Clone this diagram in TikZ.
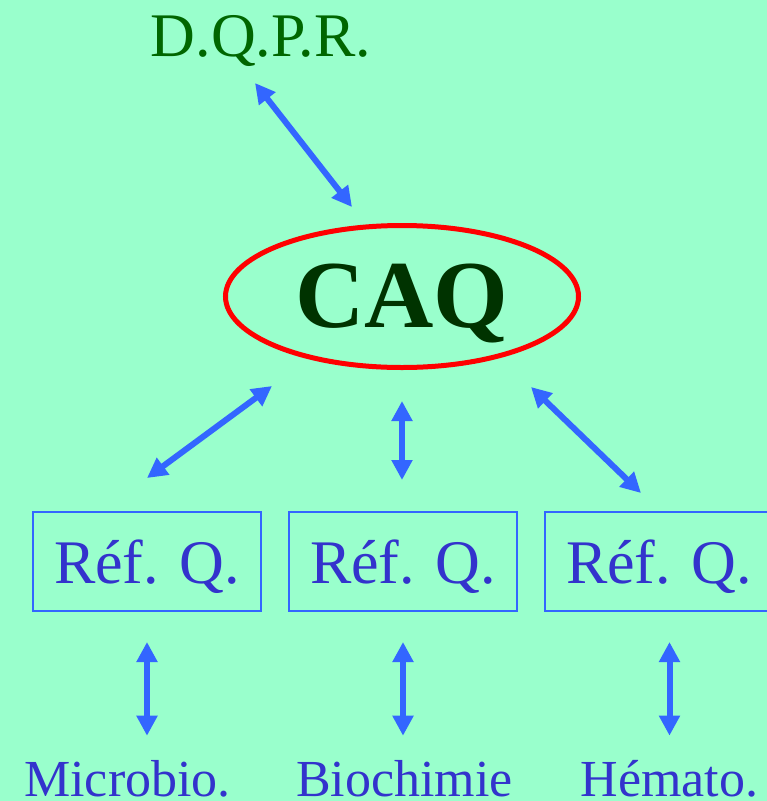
\documentclass[tikz,border=0pt]{standalone}
\usepackage{fontspec}
\setmainfont{Liberation Serif}
\usetikzlibrary{shapes.geometric, arrows.meta}
\definecolor{bgmint}{HTML}{99FFCC}
\definecolor{refblue}{HTML}{3333CC}
\definecolor{arrowblue}{HTML}{3366FF}
\definecolor{dqgreen}{HTML}{006600}
\definecolor{caqgreen}{HTML}{003300}
\tikzstyle{refbox} = [rectangle, minimum width=228pt, minimum height=99pt, inner sep=0pt, text height=45pt, text depth=2pt, draw=arrowblue, line width=2pt, text=refblue, font=\fontsize{62}{62}\selectfont]
\tikzstyle{caqellipse} = [ellipse, minimum width=353pt, minimum height=142pt, inner sep=0pt, text height=66pt, text depth=5pt, draw=red, line width=5pt, text=caqgreen, font=\fontsize{96}{96}\selectfont\bfseries]
\tikzstyle{toplabel} = [inner sep=0pt, anchor=base, text=dqgreen, font=\fontsize{62}{62}\selectfont]
\tikzstyle{dept} = [inner sep=0pt, anchor=base, text=refblue, font=\fontsize{52}{52}\selectfont]
\tikzstyle{arrow} = [line width=6pt, draw=arrowblue, {Triangle[length=20pt,width=20pt]}-{Triangle[length=20pt,width=20pt]}]

\begin{document}
\begin{tikzpicture}[x=1pt, y=-1pt]
        \fill [bgmint] (0,0) rectangle (767,801);
        \useasboundingbox (0,0) rectangle (767,801);

        \node (dqpr) [toplabel] at (261,56) {D.Q.P.R.};
        \node (caq) [caqellipse] at (402,296.5) {CAQ};
        \node (ref1) [refbox] at (147,561.5) {Réf. Q.};
        \node (ref2) [refbox] at (403,561.5) {Réf. Q.};
        \node (ref3) [refbox] at (659,561.5) {Réf. Q.};
        \node (microbio) [dept] at (127.5,796) {Microbio.};
        \node (biochimie) [dept] at (404.5,796) {Biochimie};
        \node (hemato) [dept] at (669.5,796) {Hémato.};

        \draw [arrow] ([xshift=-6pt,yshift=-27pt]dqpr.base) -- ([xshift=-50pt,yshift=16pt]caq.north);
        \draw [arrow] ([xshift=-130pt,yshift=-16pt]caq.south) -- ([yshift=33pt]ref1.north);
        \draw [arrow, shorten <=31pt, shorten >=31pt] (caq.south) -- (caq.south |- ref2.north);
        \draw [arrow] ([xshift=129pt,yshift=-17pt]caq.south) -- ([xshift=-18pt,yshift=18pt]ref3.north);
        \draw [arrow, shorten <=30pt, shorten >=24pt] (ref1.south) -- (ref1.south |- microbio.north);
        \draw [arrow, shorten <=30pt, shorten >=24pt] (ref2.south) -- (ref2.south |- biochimie.north);
        \draw [arrow, shorten <=30pt, shorten >=24pt] (ref3.south -| hemato.north) -- (hemato.north);
    \end{tikzpicture}
\end{document}
